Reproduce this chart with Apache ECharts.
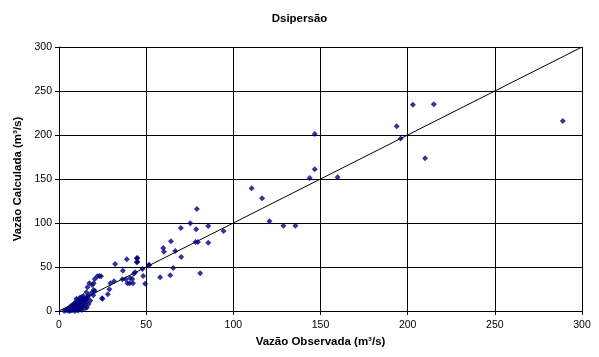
<!DOCTYPE html>
<html>
<head>
<meta charset="utf-8">
<script src="https://cdn.jsdelivr.net/npm/echarts@6/dist/echarts.min.js"></script>
<style>
  html, body { margin: 0; padding: 0; background: #fff; }
  #chart { width: 599px; height: 357px; }
</style>
</head>
<body>
<div id="chart"></div>
<script>
// Observed vs. calculated discharge (m³/s)
const chartTitle = 'Dsipersão';
const xAxisTitle = 'Vazão Observada (m³/s)';
const yAxisTitle = 'Vazão Calculada (m³/s)';
const axisTicks = [0, 50, 100, 150, 200, 250, 300];

// Low-flow cluster
const observedLow = [3, 4, 5, 5, 6, 6, 6, 7, 7, 7, 8, 8, 8, 8, 9, 9, 9, 9, 10, 10, 10, 10, 11, 11, 11, 11, 12, 12, 12, 12, 13, 13, 13, 13, 14, 14, 14, 15, 15, 15, 16, 16, 17, 17, 18, 9, 11, 13, 7, 10, 12, 14, 16, 15.7, 16.3, 16.5, 15, 18.7, 19.7, 20.5, 19, 19.9, 17.4, 24.7, 24.9, 28, 28.9];
const calculatedLow = [0, 1, 2, 0.5, 3, 1, 0, 4, 2, 0.5, 5, 3, 1, 7, 6, 2, 9, 0, 4, 8, 1, 11, 6, 3, 13, 0.5, 9, 5, 2, 15, 7, 11, 4, 1, 9, 13, 17, 6, 3, 12, 10, 14, 8, 18, 12, 4, 9, 16, 6, 14, 11, 6, 4, 21.2, 27, 16.3, 13.6, 20.8, 17.8, 22.7, 29.5, 23.9, 31.4, 14.4, 14, 19, 24.6];

// Mid and high flows
const observedHigh = [29.5, 31.6, 32.2, 36.4, 36.6, 38.3, 38.9, 39.3, 40.6, 42.4, 42, 42.9, 43.7, 44.6, 45, 22, 23.2, 24.1, 20.5, 19.9, 47.9, 48.3, 49.4, 51.7, 51.5, 44.6, 45, 40.8, 58, 59.8, 60.2, 63.8, 64.2, 65.5, 66.7, 70.1, 69.9, 75.3, 78.7, 79.1, 78.3, 79.7, 81, 85.6, 85.6, 94.4, 110.5, 116.5, 120.7, 128.7, 135.6, 143.8, 146.7, 146.7, 159.8, 193.7, 196, 203, 210, 215, 289];
const calculatedHigh = [31.4, 33.7, 53.4, 36, 45.8, 36, 58.7, 31.4, 31.4, 31.4, 36.4, 42.4, 44, 59.9, 56, 39.4, 39.8, 39.4, 36.4, 31.4, 47.7, 39.8, 31, 52.6, 51.9, 55.3, 60.2, 37.5, 38.3, 71.6, 67.4, 40.5, 79.2, 49, 68.2, 61.4, 94.3, 99.6, 92.8, 116, 78.4, 78.4, 42.8, 96.6, 77.6, 90.9, 139.4, 128, 102, 97, 97, 151, 201, 161, 152, 210, 196, 234.4, 173.5, 235, 216];

const observed = observedLow.concat(observedHigh);
const calculated = calculatedLow.concat(calculatedHigh);
const points = observed.map((x, i) => [x, calculated[i]]);

// 1:1 reference line
const identityLine = [[0, 0], [300, 300]];

const font = 'Arial, "Liberation Sans", sans-serif';

const chart = echarts.init(document.getElementById('chart'));
chart.setOption({
  animation: false,
  backgroundColor: '#ffffff',
  title: {
    text: chartTitle,
    left: 'center',
    top: 8,
    textStyle: { fontFamily: font, fontSize: 11.5, fontWeight: 'bold', color: '#000' }
  },
  grid: { left: 59, right: 17, top: 47, bottom: 46 },
  xAxis: {
    type: 'value',
    min: 0, max: 300, interval: 50,
    name: xAxisTitle,
    nameLocation: 'middle',
    nameGap: 25,
    nameTextStyle: { fontFamily: font, fontSize: 11.5, fontWeight: 'bold', color: '#000' },
    axisLine: { lineStyle: { color: '#000', width: 1 } },
    axisTick: { show: true, length: 4, inside: false, lineStyle: { color: '#000' } },
    axisLabel: { fontFamily: font, fontSize: 10.5, color: '#000', margin: 9,
      formatter: v => axisTicks.includes(v) ? String(v) : '' },
    splitLine: { show: true, lineStyle: { color: '#000', width: 1 } }
  },
  yAxis: {
    type: 'value',
    min: 0, max: 300, interval: 50,
    name: yAxisTitle,
    nameLocation: 'middle',
    nameGap: 35,
    nameTextStyle: { fontFamily: font, fontSize: 11.5, fontWeight: 'bold', color: '#000' },
    axisLine: { show: true, lineStyle: { color: '#000', width: 1 } },
    axisTick: { show: true, length: 4, inside: false, lineStyle: { color: '#000' } },
    axisLabel: { fontFamily: font, fontSize: 10.5, color: '#000', margin: 7,
      formatter: v => axisTicks.includes(v) ? String(v) : '' },
    splitLine: { show: true, lineStyle: { color: '#000', width: 1 } }
  },
  series: [
    {
      type: 'line',
      data: identityLine,
      symbol: 'none',
      lineStyle: { color: '#000', width: 1 },
      silent: true,
      z: 1
    },
    {
      type: 'scatter',
      data: points,
      symbol: 'diamond',
      symbolSize: 6,
      itemStyle: { color: '#000080' },
      z: 3
    }
  ]
});
</script>
</body>
</html>
